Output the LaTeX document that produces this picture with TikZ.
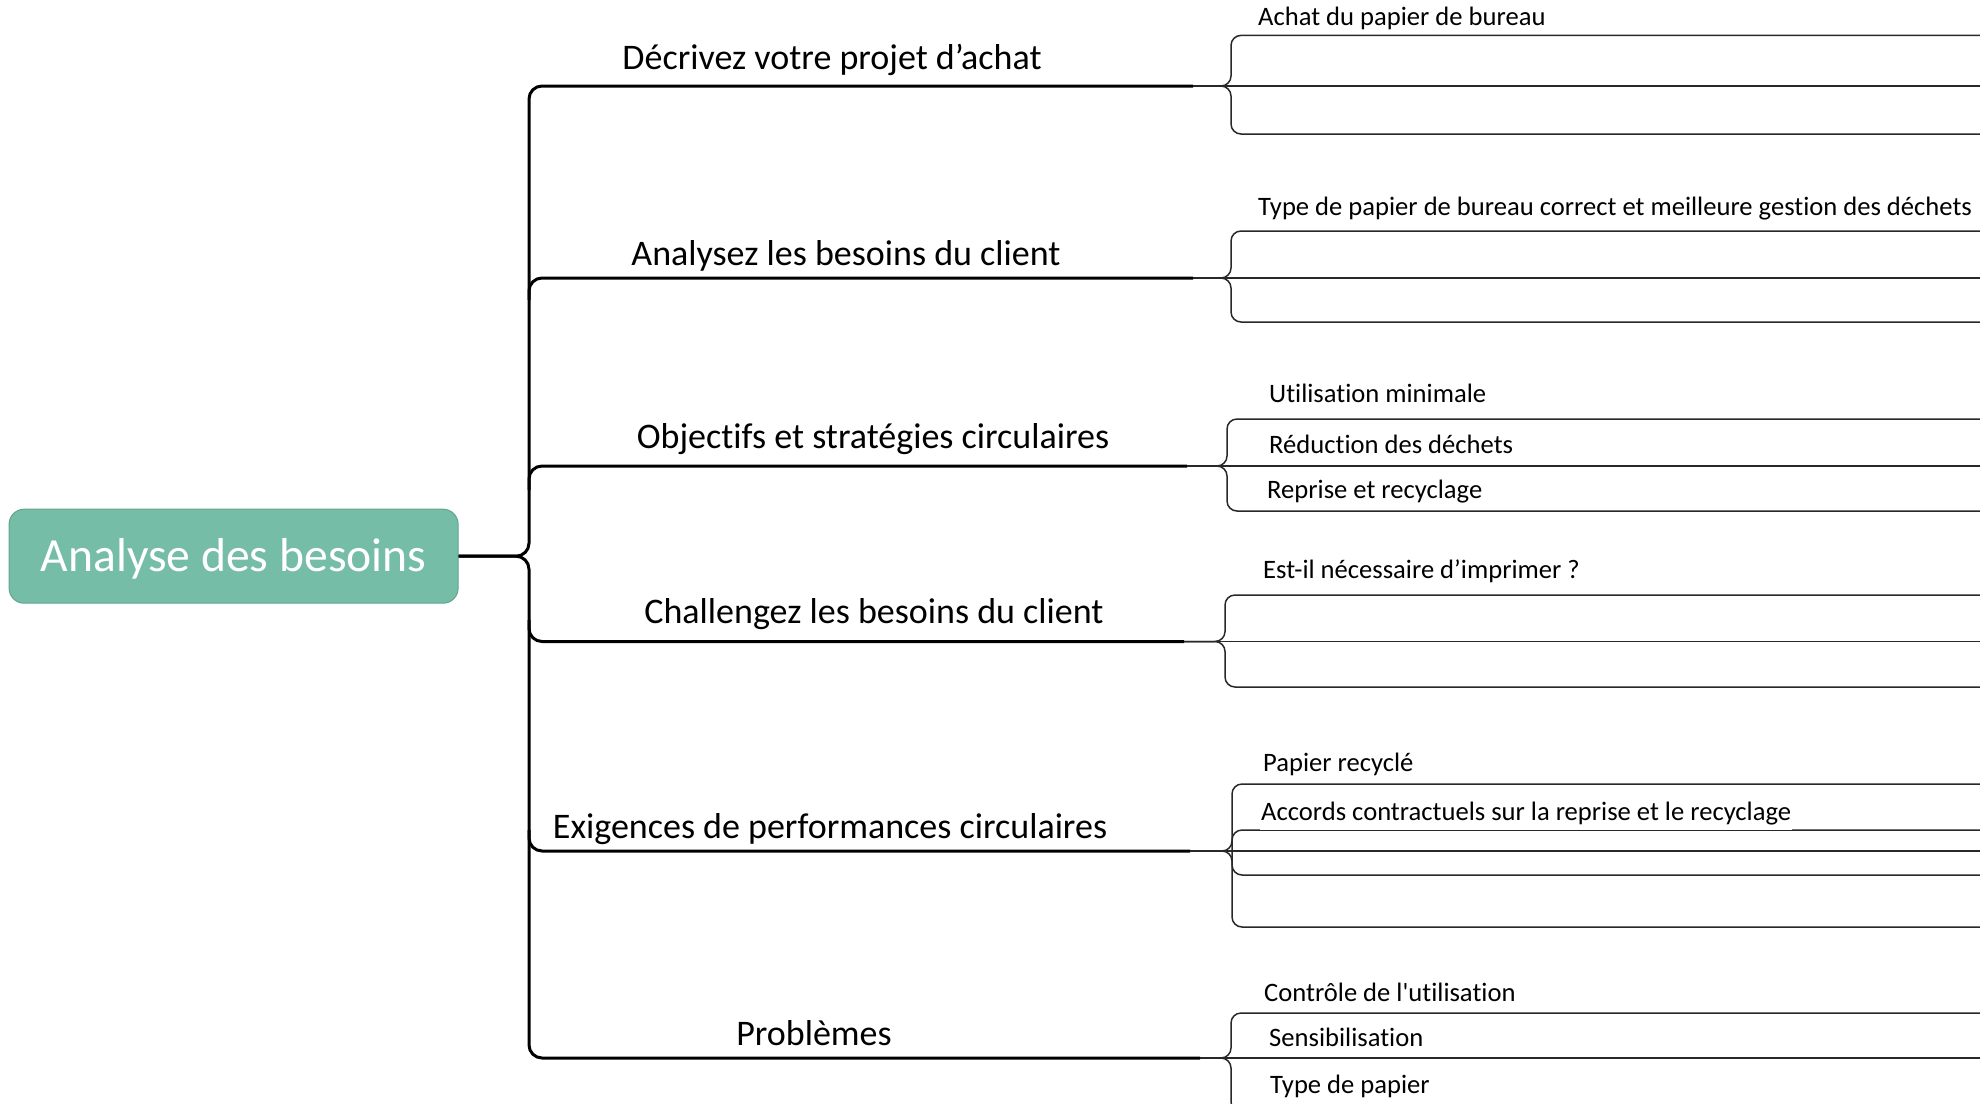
\documentclass[tikz,border=0pt]{standalone}
\usepackage{fontspec}
\newfontfamily\carl{Carlito}[Ligatures=NoCommon]
\definecolor{rootgreen}{RGB}{118,189,167}
\definecolor{rootborder}{RGB}{96,165,142}
\definecolor{subline}{RGB}{40,40,40}
\begin{document}
\begin{tikzpicture}[x=1pt,y=-1pt,
  trunk/.style={line width=3pt, black, rounded corners=13pt},
  sub/.style={line width=1.5pt, subline, rounded corners=10pt},
  lbl/.style={font=\carl\fontsize{36}{43}\selectfont, inner sep=0pt, anchor=base},
  sublbl/.style={font=\carl\fontsize{26.6}{32}\selectfont, inner sep=0pt, anchor=base west},
  rootbox/.style={rounded corners=15pt, fill=rootgreen, draw=rootborder, line width=1pt,
    minimum width=449pt, minimum height=94pt, inner sep=0pt,
    text height=41pt, text depth=10pt,
    font=\carl\fontsize{47.6}{56}\selectfont, text=white}
]
\useasboundingbox (0,0) rectangle (1980,1103);

% root
\node[rootbox] (root) at (233.6,556.2) {Analyse des besoins};

% branch labels
\node[lbl] (l1) at (832,69.5) {Décrivez votre projet d’achat};
\node[lbl] (l2) at (846,265) {Analysez les besoins du client};
\node[lbl] (l3) at (873,448) {Objectifs et stratégies circulaires};
\node[lbl] (l4) at (874,623) {Challengez les besoins du client};
\node[lbl] (l5) at (830,838) {Exigences de performances circulaires};
\node[lbl] (l6) at (814,1045) {Problèmes};

% thick branch ends
\coordinate (e1) at (1193,86);
\coordinate (e2) at (1193,278);
\coordinate (e3) at (1187,466);
\coordinate (e4) at (1184,641.5);
\coordinate (e5) at (1190,851);
\coordinate (e6) at (1200,1058);

% trunk
\draw[trunk] (root.east) -- (529,556.2) -- (529,86) -- (e1);
\draw[trunk] (root.east) -- (529,556.2) -- (529,1058) -- (e6);
\draw[trunk] (529,300) -- (529,278) -- (e2);
\draw[trunk] (529,490) -- (529,466) -- (e3);
\draw[trunk] (529,620) -- (529,641.5) -- (e4);
\draw[trunk] (529,830) -- (529,851) -- (e5);

% sub braces
% branch 1
\draw[sub] (e1) -- (1231,86) -- (1231,35.4) -- (1990,35.4);
\draw[sub] (e1) -- (1231,86) -- (1231,134) -- (1990,134);
\draw[sub] (e1) -- (1990,86);
% branch 2
\draw[sub] (e2) -- (1231,278) -- (1231,231) -- (1990,231);
\draw[sub] (e2) -- (1231,278) -- (1231,322) -- (1990,322);
\draw[sub] (e2) -- (1990,278);
% branch 3
\draw[sub] (e3) -- (1227,466) -- (1227,419) -- (1990,419);
\draw[sub] (e3) -- (1227,466) -- (1227,511) -- (1990,511);
\draw[sub] (e3) -- (1990,466);
% branch 4
\draw[sub] (e4) -- (1225,641.5) -- (1225,595) -- (1990,595);
\draw[sub] (e4) -- (1225,641.5) -- (1225,687) -- (1990,687);
\draw[sub] (e4) -- (1990,641.5);
% branch 5
\draw[sub] (e5) -- (1232,851) -- (1232,784) -- (1990,784);
\draw[sub] (1232,851) -- (1232,830) -- (1990,830);
\draw[sub] (1232,851) -- (1232,875) -- (1990,875);
\draw[sub] (e5) -- (1232,851) -- (1232,927) -- (1990,927);
\draw[sub] (e5) -- (1990,851);
% branch 6
\draw[sub] (e6) -- (1231,1058) -- (1231,1013) -- (1990,1013);
\draw[sub] (e6) -- (1231,1058) -- (1231,1112) -- (1990,1112);
\draw[sub] (e6) -- (1990,1058);

% sub labels
\node[sublbl] (s11) at (1258,25) {Achat du papier de bureau};
\node[sublbl] (s21) at (1258,215.5) {Type de papier de bureau correct et meilleure gestion des déchets};
\node[sublbl] (s31) at (1269,402.5) {Utilisation minimale};
\node[sublbl] (s32) at (1269,453) {Réduction des déchets};
\node[sublbl] (s33) at (1267,498.5) {Reprise et recyclage};
\node[sublbl] (s41) at (1263,578) {Est-il nécessaire d’imprimer ?};
\node[sublbl] (s51) at (1263,771.5) {Papier recyclé};
\node[sublbl, fill=white, inner ysep=5pt, inner xsep=1pt] (s52) at (1260,820.5) {Accords contractuels sur la reprise et le recyclage};
\node[sublbl] (s61) at (1264,1001) {Contrôle de l'utilisation};
\node[sublbl] (s62) at (1269,1046.5) {Sensibilisation};
\node[sublbl] (s63) at (1270,1093.5) {Type de papier};
\end{tikzpicture}
\end{document}
